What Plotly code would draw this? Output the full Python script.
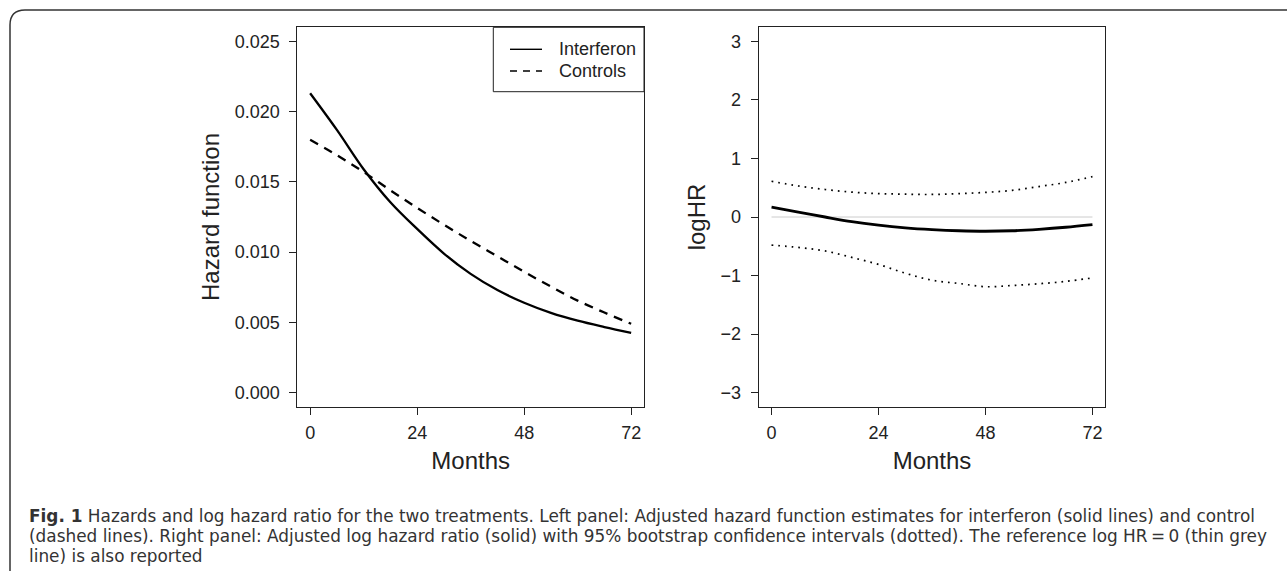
import plotly.graph_objects as go

W, H = 1287, 571

months = [0, 6, 12, 18, 24, 30, 36, 42, 48, 54, 60, 66, 72]
interferon = [0.02131, 0.01870, 0.01590, 0.01355, 0.01165, 0.00990, 0.00845, 0.00730, 0.00640,
              0.00568, 0.00512, 0.00467, 0.00426]
controls = [0.01799, 0.01690, 0.01570, 0.01440, 0.01315, 0.01195, 0.01080, 0.00970, 0.00860,
            0.00755, 0.00655, 0.00570, 0.00490]
loghr = [0.17, 0.085, 0.00, -0.08, -0.14, -0.185, -0.215, -0.235, -0.243, -0.235, -0.21, -0.175, -0.13]
loghr_upper = [0.61, 0.53, 0.47, 0.425, 0.40, 0.39, 0.385, 0.40, 0.42, 0.455, 0.52, 0.59, 0.69]
loghr_lower = [-0.48, -0.52, -0.58, -0.69, -0.81, -0.96, -1.08, -1.135, -1.19, -1.17, -1.14, -1.10, -1.04]
ref_x = [0, 72]
ref_y = [0, 0]

x_ticks = [0, 24, 48, 72]
hz_ticks = [0.000, 0.005, 0.010, 0.015, 0.020, 0.025]
hz_labels = ["0.000", "0.005", "0.010", "0.015", "0.020", "0.025"]
lh_ticks = [-3, -2, -1, 0, 1, 2, 3]
lh_labels = ["\u22123", "\u22122", "\u22121", "0", "1", "2", "3"]

legend_names = ["Interferon", "Controls"]
caption_lines = [
    "<b>Fig. 1</b> Hazards and log hazard ratio for the two treatments. Left panel: Adjusted hazard function "
    "estimates for interferon (solid lines) and control",
    "(dashed lines). Right panel: Adjusted log hazard ratio (solid) with 95% bootstrap confidence intervals "
    "(dotted). The reference log HR\u2009=\u20090 (thin grey",
    "line) is also reported",
]

def px(x):
    return x / W

def py(y):
    return 1 - y / H

FONT = "Liberation Sans, Arial, Helvetica, sans-serif"

fig = go.Figure()
fig.add_trace(go.Scatter(x=months, y=interferon, mode="lines", line=dict(color="black", width=2.3, shape="spline"),
                         xaxis="x", yaxis="y", name=legend_names[0]))
fig.add_trace(go.Scatter(x=months, y=controls, mode="lines",
                         line=dict(color="black", width=2.3, shape="spline", dash="9px,7px"),
                         xaxis="x", yaxis="y", name=legend_names[1]))
fig.add_trace(go.Scatter(x=ref_x, y=ref_y, mode="lines", line=dict(color="#cccccc", width=1),
                         xaxis="x2", yaxis="y2"))
fig.add_trace(go.Scatter(x=months, y=loghr_upper, mode="lines",
                         line=dict(color="black", width=1.7, shape="spline", dash="1.7px,5px"),
                         xaxis="x2", yaxis="y2"))
fig.add_trace(go.Scatter(x=months, y=loghr_lower, mode="lines",
                         line=dict(color="black", width=1.7, shape="spline", dash="1.7px,5px"),
                         xaxis="x2", yaxis="y2"))
fig.add_trace(go.Scatter(x=months, y=loghr, mode="lines", line=dict(color="black", width=2.8, shape="spline"),
                         xaxis="x2", yaxis="y2"))

axis_common = dict(showgrid=False, zeroline=False, showline=True, mirror=True, linecolor="#222", linewidth=1,
                   ticks="outside", ticklen=7, tickwidth=1, tickcolor="#222",
                   tickfont=dict(family=FONT, size=18, color="#222"), automargin=False)
xr = [-2.88, 74.88]
ydom = [py(406.7), py(27.3)]

fig.update_layout(
    width=W, height=H, margin=dict(l=0, r=0, t=0, b=0, pad=0),
    paper_bgcolor="white", plot_bgcolor="white", showlegend=False,
    xaxis=dict(axis_common, domain=[px(297.3), px(644)], range=xr, tickvals=x_ticks, anchor="y",
               ticklabelstandoff=3,
               title=dict(text="Months", font=dict(family=FONT, size=24, color="#222"), standoff=9)),
    yaxis=dict(axis_common, domain=ydom, range=[-0.001, 0.026], tickvals=hz_ticks, ticktext=hz_labels,
               anchor="x", ticklabelstandoff=6,
               title=dict(text="Hazard function", font=dict(family=FONT, size=24, color="#222"), standoff=8)),
    xaxis2=dict(axis_common, domain=[px(758.7), px(1105.3)], range=xr, tickvals=x_ticks, anchor="y2",
                ticklabelstandoff=3,
                title=dict(text="Months", font=dict(family=FONT, size=24, color="#222"), standoff=9)),
    yaxis2=dict(axis_common, domain=ydom, range=[-3.24, 3.24], tickvals=lh_ticks, ticktext=lh_labels,
                anchor="x2", ticklabelstandoff=6,
                title=dict(text="logHR", font=dict(family=FONT, size=24, color="#222"), standoff=8)),
)

# legend box (left panel, top-right)
lx0, lx1, ly0, ly1 = 493.3, 644, 27.3, 91.7
fig.add_shape(type="rect", xref="paper", yref="paper", x0=px(lx0), x1=px(lx1), y0=py(ly1), y1=py(ly0),
              line=dict(color="#222", width=1), fillcolor="white", layer="above")
for i, (nm, dash) in enumerate(zip(legend_names, ["solid", "7px,6px"])):
    yy = 49.3 + i * 21.7
    fig.add_shape(type="line", xref="paper", yref="paper", x0=px(510), x1=px(542), y0=py(yy), y1=py(yy),
                  line=dict(color="black", width=1.4, dash=dash), layer="above")
    fig.add_annotation(xref="paper", yref="paper", x=px(557), y=py(yy), text=nm, showarrow=False,
                       xanchor="left", yanchor="middle", font=dict(family=FONT, size=18, color="#222"))

# outer frame with rounded top-left corner
r = 15
x0b, y0b = 10, 10
path = (f"M {px(x0b)},{py(H + 5)} L {px(x0b)},{py(y0b + r)} "
        f"Q {px(x0b)},{py(y0b)} {px(x0b + r)},{py(y0b)} L {px(W + 5)},{py(y0b)}")
fig.add_shape(type="path", xref="paper", yref="paper", path=path, line=dict(color="#333", width=1.5))

# caption: base font sets the line spacing, inner span sets the glyph size
caption_html = "<br>".join(f'<span style="font-size:16.9px">{ln}</span>' for ln in caption_lines)
fig.add_annotation(xref="paper", yref="paper", x=px(27), y=py(535.5), text=caption_html, showarrow=False,
                   xanchor="left", yanchor="middle", align="left",
                   font=dict(family="DejaVu Sans, sans-serif", size=15.4, color="#333"))

fig.write_html("out.html")
